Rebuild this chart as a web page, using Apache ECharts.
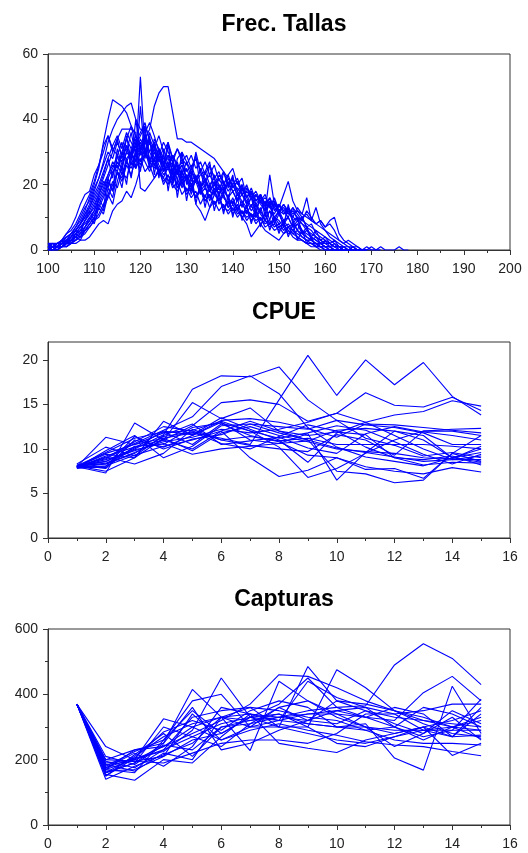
<!DOCTYPE html>
<html>
<head>
<meta charset="utf-8">
<script src="https://cdn.jsdelivr.net/npm/echarts@6/dist/echarts.min.js"></script>
<style>
html,body{margin:0;padding:0;background:#fff;}
#chart{width:528px;height:853px;}
</style>
</head>
<body>
<div id="chart"></div>
<script>
// ---------- DATA ----------
const titles = ["Frec. Tallas", "CPUE", "Capturas"];

// Length classes (cm) starting at 100, step 1
const tallaStart = 100;

const f1 = [1,0,1,2,3,4,6,8,10,13, 17,20,24,28,22,31,26,30,36,29, 53,30,34,26,29,24,27,20,25,19, 23,17,22,18,20,15,19,14,17,13, 16,12,15,11,14,10,13,9,12,8, 11,8,10,7,9,6,5,4,3,2, 2,1,1,0,0,0,0,0,0,0];
const f2 = [0,1,1,2,2,3,5,6,9,11, 14,17,21,19,24,26,23,28,30,27, 31,34,37,44,48,50,50,42,34,34, 33,33,32,31,30,29,28,26,24,22, 20,22,18,19,17,15,16,14,13,14, 12,11,13,10,9,8,6,5,4,3, 2,2,1,1,0,0,1,0,0,0];
const f3 = [2,2,1,3,4,5,7,9,12,16, 20,25,33,40,46,45,44,42,38,35, 30,34,28,26,24,22,20,25,19,21, 18,20,16,19,15,17,14,16,13,12, 14,11,12,10,11,9,10,8,9,7, 8,6,7,5,4,3,2,2,1,1, 0,0,0,0,0,0,0,0];
const f4 = [1,1,2,2,3,5,6,8,11,14, 18,22,27,33,37,40,42,44,45,40, 37,36,39,35,30,27,28,24,26,22, 23,20,22,19,21,18,17,19,16,14, 15,13,14,12,11,10,12,9,8,9, 7,8,6,5,6,4,3,2,2,1, 1,0,0,0,0,0,0];
const f5 = [2,1,2,3,5,7,10,14,17,18, 23,26,30,35,31,29,33,27,30,25, 28,24,26,22,25,20,23,19,21,17, 19,16,18,14,17,13,15,12,14,11, 13,10,12,9,11,8,10,7,8,6, 7,5,6,4,3,3,2,1,1,0, 0,0,0,0,0];
const f6 = [0,0,1,1,2,3,3,4,5,7, 9,10,13,16,20,24,22,27,25,29, 26,30,27,25,28,24,26,22,25,21, 23,20,22,19,21,18,20,17,19,16, 18,15,17,14,16,13,15,12,23,14, 12,13,11,12,10,9,8,7,6,5, 4,3,2,1,1,0,0,0,0,0];
const f7 = [1,0,0,1,2,2,4,5,7,9, 12,15,18,22,25,29,27,32,29,34, 31,35,30,33,28,31,26,29,25,27, 24,26,22,24,21,23,20,22,19,20, 18,19,17,18,16,17,15,16,14,15, 13,17,21,15,12,11,10,9,8,9, 7,9,10,5,3,2,1,1,0,0, 0,0,0];
const f8 = [0,0,0,1,1,2,2,3,3,4, 6,8,9,8,12,14,15,18,16,20, 25,29,27,31,28,26,29,27,24,26, 22,25,21,23,24,20,22,19,21,18, 20,17,19,16,18,15,17,14,16,13, 14,12,13,11,12,10,11,9,8,7, 6,5,4,3,2,1,1,0,0,1, 0,0,1,0,0,0,1,0,0];
const f9 = [1,1,2,2,3,4,6,8,10,12, 15,18,22,26,30,34,37,37,37,36, 19,18,20,22,24,21,23,20,18,21, 17,19,16,18,15,17,14,16,13,15, 12,14,11,13,10,12,9,11,8,10, 9,7,8,6,5,4,3,3,2,1, 1,0,0,0,0,0,0];
const f10 = [0,1,1,2,3,3,5,7,9,11, 13,17,20,23,26,24,29,31,28,33, 36,39,33,30,27,29,25,27,23,26, 22,24,14,12,9,13,17,20,18,22, 19,21,17,15,12,14,11,9,12,10, 8,9,7,8,6,5,4,3,2,2, 1,1,0,0,0,0,0];
const f11 = [1,2,2,3,3,5,6,8,11,13, 16,19,23,28,32,35,31,36,33,30, 34,31,27,30,26,23,25,21,24,20, 22,19,21,17,19,16,18,15,17,13, 15,12,10,8,4,6,8,6,5,4, 3,5,7,6,8,6,4,3,2,1, 0,0,0,0,0];
const f12 = [0,0,1,1,2,2,3,5,6,8, 10,13,16,20,23,27,25,30,28,32, 29,33,30,27,31,28,25,29,26,23, 27,24,21,25,22,19,23,20,17,21, 18,15,19,16,13,17,14,12,15,13, 11,14,12,10,13,11,16,9,13,8, 6,4,3,2,1,1,0,0,0,0];
const f13 = [2,1,1,2,4,5,7,10,13,15, 19,22,26,30,28,33,29,34,31,35, 32,29,33,28,31,26,29,24,27,22, 25,21,23,19,22,18,21,17,20,23, 25,20,22,16,18,14,16,12,14,10, 12,9,10,7,8,5,6,4,3,2, 1,1,0,0,0,0,0];
const f14 = [0,0,0,1,1,2,3,4,6,7, 9,11,14,17,21,19,24,22,27,25, 30,27,24,28,25,22,26,23,20,24, 21,18,22,19,16,20,17,15,18,16, 14,17,15,13,16,14,12,15,13,11, 14,12,10,13,11,9,12,10,8,9, 7,8,6,3,2,3,2,1,0,0, 1,0,0];
const f15 = [1,1,2,3,5,6,8,11,14,17, 21,26,32,35,30,34,28,32,26,30, 27,31,25,28,23,26,21,24,19,22, 18,20,16,19,15,17,14,16,12,15, 11,13,10,12,9,11,8,9,7,8, 6,7,5,6,4,3,2,2,1,1, 0,0,0,0,0,0];
const f16 = [0,1,1,1,2,3,4,6,7,9, 11,14,17,21,18,24,21,26,23,28, 33,30,36,32,29,33,30,27,31,28, 26,29,25,27,23,26,22,24,20,23, 19,21,17,20,16,18,15,17,13,16, 12,14,11,13,9,10,7,8,5,4, 3,2,1,1,0,0,0,0,0];
const f17 = [1,0,1,1,2,4,5,7,8,10, 12,16,19,23,27,25,30,34,38,32, 35,38,34,31,35,30,33,28,31,27, 29,25,28,24,27,23,26,21,24,20, 22,18,20,16,19,15,17,13,16,12, 14,11,12,9,10,8,7,6,4,3, 2,2,1,1,0,0,0,0];
const f18 = [0,1,0,2,1,3,4,3,6,8, 10,14,12,19,16,24,19,28,22,31, 24,36,26,33,22,30,18,27,16,25, 15,23,14,21,13,20,12,18,11,17, 10,16,9,14,8,13,7,12,6,10, 5,9,4,8,3,6,2,4,1,2, 1,1,0,0,0,0,0];
const f19 = [1,2,1,3,2,4,6,5,9,12, 9,16,13,22,18,29,24,35,27,40, 30,38,26,34,31,24,32,28,21,30, 27,22,30,24,19,26,22,16,24,19, 23,15,20,14,18,11,17,10,15,9, 12,7,14,8,10,5,7,3,4,2, 3,1,2,0,1,0,0,0,0];
const f20 = [0,0,1,1,3,2,5,4,7,10, 8,13,11,17,14,21,26,20,31,25, 44,28,35,23,31,26,33,21,28,30, 20,25,29,19,24,27,17,23,21,15, 22,18,13,19,16,11,17,14,9,15, 11,8,13,9,6,10,7,4,6,3, 4,2,3,1,1,0,1,0,0,0];

// Years 1..15
const years = [1,2,3,4,5,6,7,8,9,10,11,12,13,14,15];

const c1  = [8.0, 9.5, 10.5, 11.2, 11.8, 11.2, 10.5, 15.5, 20.5, 16.0, 20.0, 17.2, 19.7, 15.9, 13.8];
const c2  = [8.0, 8.6, 10.0, 11.6, 16.7, 18.2, 18.1, 19.2, 15.5, 13.2, 11.2, 10.4, 9.2, 9.6, 9.0];
const c3  = [8.1, 8.9, 10.6, 12.1, 13.6, 17.0, 18.2, 16.2, 12.4, 10.2, 9.1, 8.6, 8.1, 9.0, 8.5];
const c4  = [7.9, 9.2, 10.2, 11.0, 12.6, 15.2, 15.5, 15.0, 13.1, 14.0, 16.3, 14.9, 14.7, 15.8, 14.3];
const c5  = [8.2, 8.3, 9.6, 11.0, 15.2, 13.4, 14.6, 12.0, 11.0, 10.1, 9.6, 9.1, 8.6, 8.8, 9.2];
const c6  = [8.0, 11.3, 10.5, 11.8, 12.1, 13.1, 12.0, 10.2, 6.8, 7.8, 9.5, 11.0, 12.0, 12.2, 12.3];
const c7  = [8.0, 7.3, 12.9, 11.0, 10.0, 12.0, 9.0, 6.9, 7.6, 9.0, 7.7, 7.8, 6.7, 9.5, 11.5];
const c8  = [8.1, 7.5, 9.0, 13.1, 11.5, 13.0, 11.0, 10.6, 11.7, 6.5, 9.6, 12.0, 11.0, 9.0, 10.0];
const c9  = [7.9, 9.8, 11.5, 9.0, 10.3, 12.6, 12.8, 12.5, 12.2, 13.2, 12.7, 12.4, 11.8, 10.5, 10.5];
const c10 = [8.0, 8.4, 9.9, 10.6, 9.4, 10.0, 10.3, 10.6, 10.9, 12.1, 12.3, 12.0, 11.5, 9.0, 9.6];
const c11 = [8.2, 7.8, 11.0, 10.2, 11.5, 13.2, 13.4, 13.0, 12.3, 11.3, 12.8, 12.7, 12.4, 12.1, 11.8];
const c12 = [8.0, 9.0, 10.8, 12.5, 12.0, 11.0, 11.4, 10.9, 11.2, 10.5, 10.5, 10.5, 10.5, 10.3, 10.0];
const c13 = [7.8, 8.1, 9.3, 10.3, 11.0, 12.0, 13.1, 12.0, 11.5, 11.9, 11.6, 9.0, 8.2, 8.5, 8.4];
const c14 = [8.1, 9.6, 11.2, 11.9, 10.5, 12.8, 11.5, 10.8, 9.3, 9.0, 8.0, 7.5, 7.2, 7.9, 7.4];
const c15 = [8.0, 8.8, 9.8, 10.8, 11.3, 12.2, 11.8, 12.2, 13.0, 14.0, 13.0, 11.5, 10.0, 8.8, 8.8];
const c16 = [8.3, 10.2, 9.2, 11.5, 12.8, 10.5, 10.9, 11.3, 10.1, 9.5, 11.7, 12.5, 11.9, 11.5, 11.0];
const c17 = [8.0, 8.0, 11.4, 10.0, 11.1, 11.6, 12.8, 11.8, 11.0, 7.5, 7.2, 6.2, 6.5, 9.5, 8.6];
const c18 = [7.9, 9.1, 8.3, 9.5, 12.2, 11.0, 10.4, 10.0, 9.7, 11.6, 11.0, 9.3, 12.0, 12.0, 11.5];
const c19 = [8.1, 8.6, 10.1, 12.0, 11.6, 13.5, 12.2, 11.0, 8.5, 11.8, 13.0, 13.8, 14.2, 15.4, 14.8];
const c20 = [8.0, 9.4, 9.0, 11.2, 9.8, 11.8, 12.5, 11.5, 10.8, 10.0, 9.7, 9.5, 9.0, 8.9, 10.3];
const c21 = [8.0, 7.9, 10.3, 10.5, 12.4, 12.9, 12.0, 11.2, 11.8, 12.6, 12.1, 10.8, 9.4, 8.3, 9.4];
const c22 = [7.9, 8.3, 9.5, 11.4, 11.9, 10.6, 10.0, 11.4, 12.7, 12.0, 10.2, 9.0, 8.8, 9.2, 8.2];

const k1  = [370, 170, 200, 240, 300, 330, 340, 330, 350, 360, 365, 490, 555, 510, 430];
const k2  = [370, 160, 190, 250, 415, 330, 300, 320, 340, 350, 330, 320, 405, 455, 380];
const k3  = [370, 175, 205, 225, 290, 450, 330, 340, 310, 300, 310, 205, 168, 425, 280];
const k4  = [370, 190, 200, 325, 300, 260, 290, 310, 290, 275, 255, 245, 240, 225, 212];
const k5  = [370, 140, 180, 215, 250, 330, 228, 440, 380, 330, 300, 280, 300, 213, 250];
const k6  = [370, 155, 137, 200, 190, 270, 340, 250, 235, 222, 260, 280, 300, 320, 350];
const k7  = [370, 180, 225, 260, 380, 400, 300, 300, 485, 380, 350, 330, 320, 300, 330];
const k8  = [370, 200, 230, 240, 280, 320, 370, 460, 455, 420, 380, 350, 330, 300, 290];
const k9  = [370, 165, 170, 210, 260, 280, 330, 300, 300, 475, 420, 350, 310, 280, 270];
const k10 = [370, 240, 200, 230, 330, 350, 360, 350, 330, 320, 290, 260, 250, 250, 245];
const k11 = [370, 150, 215, 280, 210, 300, 320, 330, 340, 340, 330, 360, 340, 270, 360];
const k12 = [370, 170, 160, 260, 350, 280, 330, 370, 450, 360, 330, 300, 270, 290, 385];
const k13 = [370, 185, 195, 190, 220, 250, 260, 260, 250, 280, 340, 340, 350, 370, 370];
const k14 = [370, 175, 220, 180, 240, 360, 340, 320, 310, 300, 300, 290, 290, 290, 290];
const k15 = [370, 210, 185, 245, 230, 300, 310, 330, 320, 380, 370, 350, 320, 310, 300];
const k16 = [370, 160, 210, 270, 310, 330, 360, 300, 280, 260, 250, 270, 290, 300, 320];
const k17 = [370, 195, 175, 230, 270, 240, 310, 360, 380, 340, 300, 240, 280, 330, 260];
const k18 = [370, 150, 205, 285, 320, 290, 350, 380, 360, 300, 290, 300, 360, 340, 300];
const k19 = [370, 170, 230, 250, 360, 230, 250, 290, 320, 350, 360, 340, 290, 270, 340];
const k20 = [370, 185, 165, 220, 200, 330, 320, 340, 300, 250, 240, 270, 300, 270, 275];
const k21 = [370, 160, 190, 300, 270, 310, 330, 320, 440, 390, 360, 300, 260, 300, 265];
const k22 = [370, 200, 195, 210, 340, 260, 300, 360, 320, 310, 350, 310, 280, 350, 310];

const tallaTicks = [100,110,120,130,140,150,160,170,180,190,200];
const cpueTicks = [0,5,10,15,20];

const frecSeries = [f1,f2,f3,f4,f5,f6,f7,f8,f9,f10,f11,f12,f13,f14,f15,f16,f17,f18,f19,f20];
const cpueSeries = [c1,c2,c3,c4,c5,c6,c7,c8,c9,c10,c11,c12,c13,c14,c15,c16,c17,c18,c19,c20,c21,c22];
const captSeries = [k1,k2,k3,k4,k5,k6,k7,k8,k9,k10,k11,k12,k13,k14,k15,k16,k17,k18,k19,k20,k21,k22];

// ---------- CHART ----------
const BLUE = '#0000ff';
const AX = '#333333';
const FONT = '"Liberation Sans", Arial, sans-serif';

const grids = [
  {left:48, top:54, width:462, height:196},
  {left:48, top:342, width:462, height:196},
  {left:48, top:629, width:462, height:196}
].map(g => Object.assign(g, {show:true, borderColor:AX, borderWidth:1, backgroundColor:'transparent'}));

function xAx(gi, min, max, interval) {
  return {
    type:'value', gridIndex:gi, min:min, max:max, interval:interval,
    axisLine:{show:true, onZero:false, lineStyle:{color:AX, width:1}},
    axisTick:{show:true, inside:false, length:5, lineStyle:{color:AX}},
    minorTick:{show:true, splitNumber:2, length:3, lineStyle:{color:AX}},
    splitLine:{show:false}, minorSplitLine:{show:false},
    axisLabel:{color:'#222', fontSize:14, fontFamily:FONT, margin:12, showMinLabel:true, showMaxLabel:true}
  };
}
function yAx(gi, min, max, interval, custom) {
  const a = {
    type:'value', gridIndex:gi, min:min, max:max, interval:interval,
    axisLine:{show:true, onZero:false, lineStyle:{color:AX, width:1}},
    axisTick:{show:true, inside:false, length:5, lineStyle:{color:AX}},
    minorTick:{show:!custom, splitNumber:2, length:3, lineStyle:{color:AX}},
    splitLine:{show:false}, minorSplitLine:{show:false},
    axisLabel:{color:'#222', fontSize:14, fontFamily:FONT, margin:10}
  };
  if (custom) {
    a.axisTick.customValues = custom;
    a.axisLabel.customValues = custom;
  }
  return a;
}

const series = [];
frecSeries.forEach((arr, i) => {
  series.push({
    type:'line', xAxisIndex:0, yAxisIndex:0, name:'f'+(i+1),
    data: arr.map((v, j) => [tallaStart + j, v]),
    showSymbol:false, symbol:'none', silent:true,
    lineStyle:{color:BLUE, width:1.2}, itemStyle:{color:BLUE}
  });
});
cpueSeries.forEach((arr, i) => {
  series.push({
    type:'line', xAxisIndex:1, yAxisIndex:1, name:'c'+(i+1),
    data: arr.map((v, j) => [years[j], v]),
    showSymbol:false, symbol:'none', silent:true,
    lineStyle:{color:BLUE, width:1.1}, itemStyle:{color:BLUE}
  });
});
captSeries.forEach((arr, i) => {
  series.push({
    type:'line', xAxisIndex:2, yAxisIndex:2, name:'k'+(i+1),
    data: arr.map((v, j) => [years[j], v]),
    showSymbol:false, symbol:'none', silent:true,
    lineStyle:{color:BLUE, width:1.1}, itemStyle:{color:BLUE}
  });
});

const titleTops = [8, 296, 583];
const chart = echarts.init(document.getElementById('chart'), null, {renderer:'canvas', width:528, height:853});
chart.setOption({
  animation:false,
  backgroundColor:'#ffffff',
  title: titles.map((t, i) => ({
    text:t, left:279, top:titleTops[i], textAlign:'center',
    textStyle:{color:'#000', fontSize:23, fontWeight:'bold', fontFamily:FONT}
  })),
  grid: grids,
  xAxis: [xAx(0, tallaTicks[0], tallaTicks[tallaTicks.length-1], 10), xAx(1, 0, 16, 2), xAx(2, 0, 16, 2)],
  yAxis: [yAx(0, 0, 60, 20), yAx(1, 0, 22, 5, cpueTicks), yAx(2, 0, 600, 200)],
  series: series
});
</script>
</body>
</html>
